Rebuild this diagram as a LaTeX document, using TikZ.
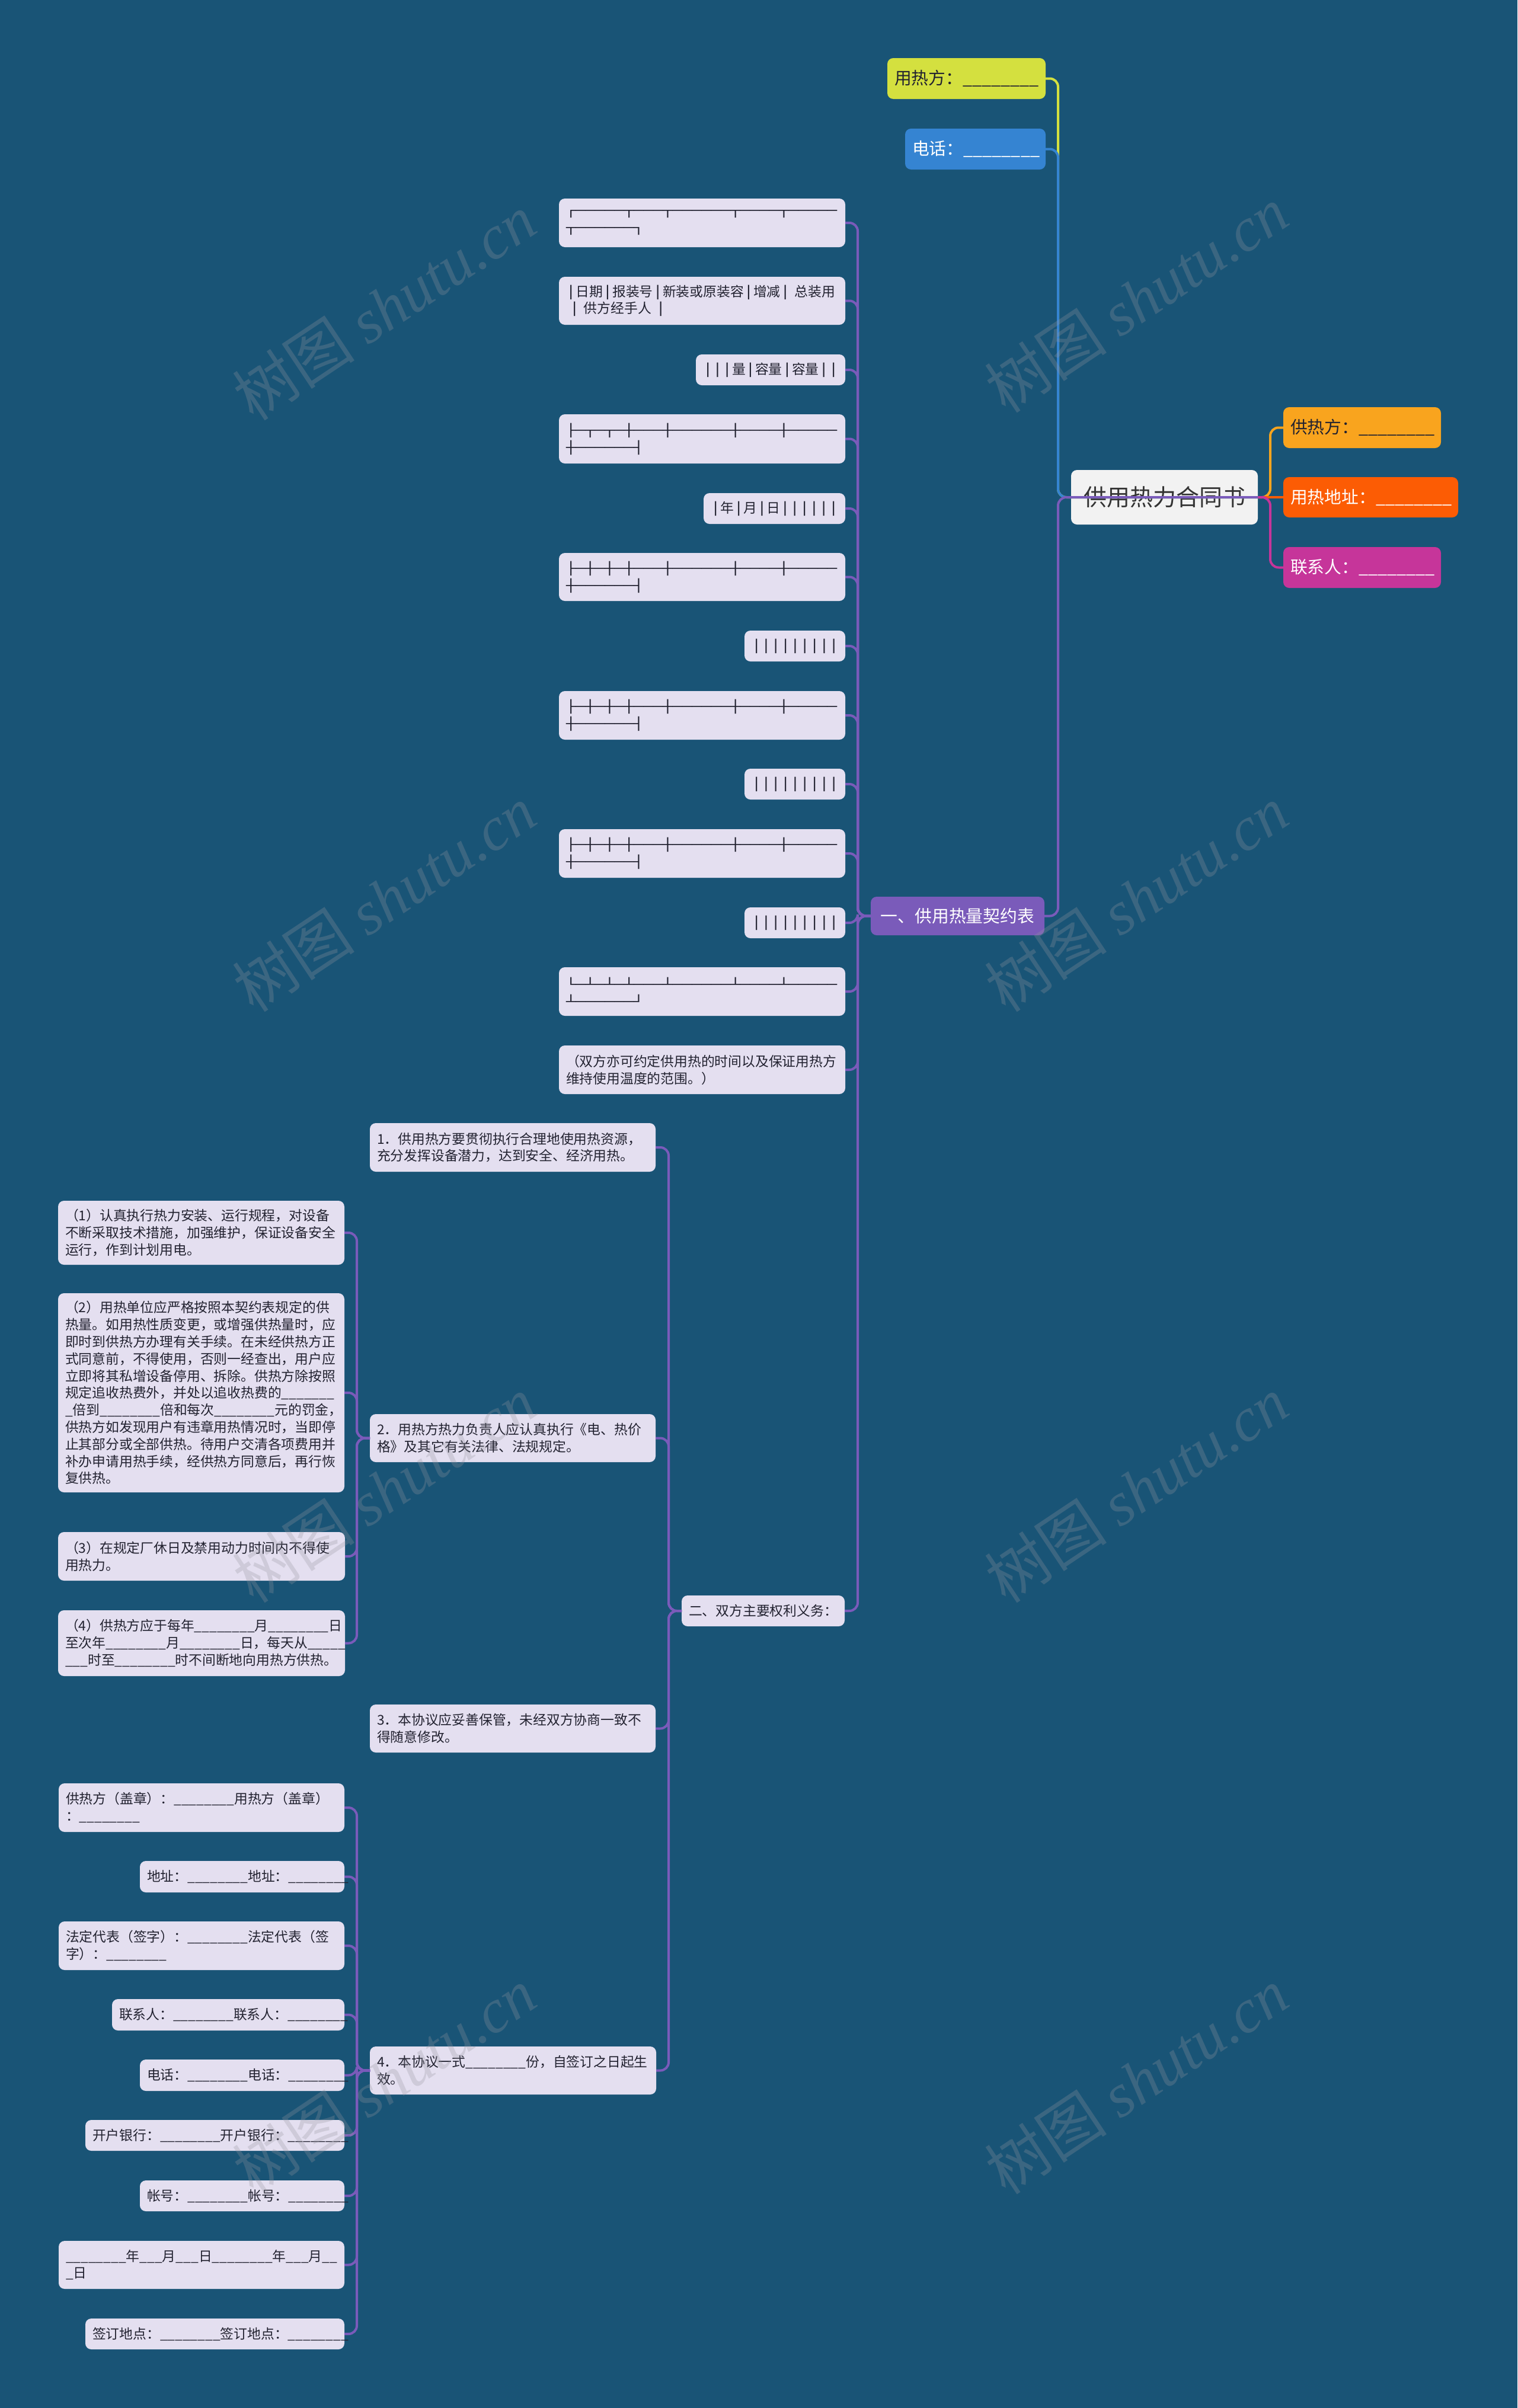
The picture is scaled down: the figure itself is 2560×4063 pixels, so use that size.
\documentclass[tikz,border=0pt]{standalone}
\usepackage{fontspec}
\setmainfont{Noto Sans CJK SC}
\newfontfamily\bdfont[FakeStretch=1.317]{DejaVu Sans Mono}
\newfontfamily\wmlatin{Liberation Serif}
\usetikzlibrary{calc}
\definecolor{bg}{RGB}{25,84,118}
\definecolor{boxfill}{RGB}{228,223,240}
\definecolor{txt}{RGB}{34,34,48}
\definecolor{cyel}{RGB}{212,224,63}
\definecolor{cblu}{RGB}{53,132,210}
\definecolor{corg}{RGB}{249,164,30}
\definecolor{cred}{RGB}{252,92,4}
\definecolor{cmag}{RGB}{198,53,154}
\definecolor{cpur}{RGB}{122,91,186}
\definecolor{croot}{RGB}{242,242,242}
\definecolor{wmgray}{RGB}{150,150,160}
\newcommand\bdx{\bdfont\fontsize{10.3}{14.5}\selectfont}
\newcommand\vbx{{\bdx │}}
\newcommand\bk{\_\_\_\_\_\_\_\_}
\newcommand\bx[7]{%
  \pgfmathsetmacro\bxw{(#5-#3)*0.5}%
  \pgfmathsetmacro\bxh{(#6-#4)*0.5}%
  \pgfmathsetmacro\bxt{(#5-#3)*0.5-12}%
  \node[#1, minimum width=\bxw pt, minimum height=\bxh pt, text width=\bxt pt] (#2) at ({(#3+#5)/2},{(#4+#6)/2}) {#7};%
}
\tikzset{
  every node/.style={outer sep=0pt},
  nb/.style={rounded corners=5pt, inner xsep=6pt, inner ysep=0pt},
  lb/.style={nb, fill=boxfill, text=txt, font=\fontsize{11.4}{14.4}\selectfont},
  alL/.style={align=left},
  alC/.style={align=center},
  rul/.style={nb, fill=boxfill, text=txt, font=\bdx, align=left},
  topbox/.style={nb, font=\fontsize{14.4}{18}\selectfont, align=left},
  conn/.style={line width=2pt, rounded corners=7pt},
  wm/.style={text=wmgray, text opacity=0.28, font=\fontsize{52}{56}\selectfont, inner sep=0pt}
}
\begin{document}
\begin{tikzpicture}[x=0.5pt, y=-0.5pt]
\useasboundingbox (0,0) rectangle (2560,4063);
\fill[bg] (0,0) rectangle (2560,4063);

% ---------- top level ----------
\bx{nb, fill=croot, text={rgb,255:red,51;green,51;blue,51}, font=\fontsize{19.5}{24}\selectfont, align=center}{root}{1807}{793}{2122}{885}{供用热力合同书}
\bx{topbox, fill=cyel, text=txt}{uA}{1497}{98}{1764}{167}{用热方：\bk}
\bx{topbox, fill=cblu, text=white}{uB}{1527}{217}{1764}{286}{电话：\bk}
\bx{topbox, fill=corg, text=txt}{rA}{2165}{687}{2431}{756}{供热方：\bk}
\bx{topbox, fill=cred, text=white}{rB}{2165}{805}{2460}{873}{用热地址：\bk}
\bx{topbox, fill=cmag, text=white}{rC}{2165}{923}{2431}{992}{联系人：\bk}
\bx{topbox, fill=cpur, text=white, align=center}{t1}{1469}{1513}{1762}{1578}{一、供用热量契约表}

% ---------- table branch ----------
\bx{rul}{b1}{943}{335}{1426}{417}{┌─────┬───┬──────┬────┬─────\\┬──────┐}
\bx{lb,alL}{b2}{943}{467}{1426}{548}{\vbx 日期\vbx 报装号\vbx 新装或原装容\vbx 增减\vbx\ 总装用\\\hspace*{3pt}\vbx\ 供方经手人\ \vbx}
\bx{lb,alC}{b3}{1174}{598}{1426}{650}{\vbx\vbx\vbx 量\vbx 容量\vbx 容量\vbx\vbx}
\bx{rul}{b4}{943}{699}{1426}{782}{├─┬─┬─┼───┼──────┼────┼─────\\┼──────┤}
\bx{lb,alC}{b5}{1187}{832}{1426}{884}{\vbx 年\vbx 月\vbx 日\vbx\vbx\vbx\vbx\vbx\vbx}
\bx{rul}{b6}{943}{933}{1426}{1014}{├─┼─┼─┼───┼──────┼────┼─────\\┼──────┤}
\bx{rul,align=center}{b7}{1256}{1064}{1426}{1116}{│││││││││}
\bx{rul}{b8}{943}{1166}{1426}{1248}{├─┼─┼─┼───┼──────┼────┼─────\\┼──────┤}
\bx{rul,align=center}{b9}{1256}{1297}{1426}{1349}{│││││││││}
\bx{rul}{b10}{943}{1399}{1426}{1481}{├─┼─┼─┼───┼──────┼────┼─────\\┼──────┤}
\bx{rul,align=center}{b11}{1256}{1531}{1426}{1583}{│││││││││}
\bx{rul}{b12}{943}{1632}{1426}{1714}{└─┴─┴─┴───┴──────┴────┴─────\\┴──────┘}
\bx{lb,alL}{b13}{943}{1764}{1426}{1846}{（双方亦可约定供用热的时间以及保证用热方\\维持使用温度的范围。）}
\bx{lb,alC}{t2}{1150}{2692}{1425}{2744}{二、双方主要权利义务：}

% ---------- rights branch ----------
\bx{lb,alL}{c1}{624}{1895}{1106}{1977}{1．供用热方要贯彻执行合理地使用热资源，\\充分发挥设备潜力，达到安全、经济用热。}
\bx{lb,alL}{c2}{624}{2386}{1106}{2467}{2．用热方热力负责人应认真执行《电、热价\\格》及其它有关法律、法规规定。}
\bx{lb,alL}{c3}{624}{2876}{1106}{2957}{3．本协议应妥善保管，未经双方协商一致不\\得随意修改。}
\bx{lb,alL}{c4}{624}{3453}{1107}{3534}{4．本协议一式\bk 份，自签订之日起生\\效。}

\bx{lb,alL}{d1}{98}{2026}{581}{2134}{（1）认真执行热力安装、运行规程，对设备\\不断采取技术措施，加强维护，保证设备安全\\运行，作到计划用电。}
\bx{lb,alL}{d2}{98}{2182}{581}{2518}{（2）用热单位应严格按照本契约表规定的供\\热量。如用热性质变更，或增强供热量时，应\\即时到供热方办理有关手续。在未经供热方正\\式同意前，不得使用，否则一经查出，用户应\\立即将其私增设备停用、拆除。供热方除按照\\规定追收热费外，并处以追收热费的\_\_\_\_\_\_\_\\\_倍到\bk 倍和每次\bk 元的罚金，\\供热方如发现用户有违章用热情况时，当即停\\止其部分或全部供热。待用户交清各项费用并\\补办申请用热手续，经供热方同意后，再行恢\\复供热。}
\bx{lb,alL}{d3}{98}{2585}{582}{2667}{（3）在规定厂休日及禁用动力时间内不得使\\用热力。}
\bx{lb,alL}{d4}{98}{2717}{582}{2828}{（4）供热方应于每年\bk 月\bk 日\\至次年\bk 月\bk 日，每天从\_\_\_\_\_\\\_\_\_时至\bk 时不间断地向用热方供热。}

\bx{lb,alL}{s1}{99}{3009}{581}{3091}{供热方（盖章）：\bk 用热方（盖章）\\：\bk}
\bx{lb,alC}{s2}{236}{3140}{581}{3193}{地址：\bk 地址：\bk}
\bx{lb,alL}{s3}{99}{3242}{581}{3324}{法定代表（签字）：\bk 法定代表（签\\字）：\bk}
\bx{lb,alC}{s4}{189}{3373}{581}{3426}{联系人：\bk 联系人：\bk}
\bx{lb,alC}{s5}{236}{3475}{581}{3528}{电话：\bk 电话：\bk}
\bx{lb,alC}{s6}{144}{3577}{581}{3629}{开户银行：\bk 开户银行：\bk}
\bx{lb,alC}{s7}{236}{3679}{581}{3731}{帐号：\bk 帐号：\bk}
\bx{lb,alL}{s8}{99}{3781}{581}{3862}{\bk 年\_\_\_月\_\_\_日\bk 年\_\_\_月\_\_\\\_日}
\bx{lb,alC}{s9}{144}{3912}{581}{3964}{签订地点：\bk 签订地点：\bk}

% ---------- junctions ----------
\coordinate (jL) at (1785,839);
\coordinate (jR) at (2143,839);
\coordinate (j1) at (1447,1545);
\coordinate (j2) at (1128,2718);
\coordinate (j3) at (602,2426);
\coordinate (j4) at (602,3493);

% ---------- connectors ----------
\draw[conn, corg] (root.east) -- (root.east -| jR) |- (rA.west);
\draw[conn, cred] (root.east) -- (rB.west);
\draw[conn, cmag] (root.east) -- (root.east -| jR) |- (rC.west);
\draw[conn, cyel] (root.east) -- (root.east -| jL) |- (uA.east);
\draw[conn, cblu] (root.east) -- (root.east -| jL) |- (uB.east);
\draw[conn, cpur] (root.east) -- (root.east -| jL) |- (t1.east);

\foreach \n in {b1,b2,b3,b4,b5,b6,b7,b8,b9,b10,b11,b12,b13,t2}
  \draw[conn, cpur] (t1.west) -- (t1.west -| j1) |- (\n.east);
\foreach \n in {c1,c2,c3,c4}
  \draw[conn, cpur] (t2.west) -- (t2.west -| j2) |- (\n.east);
\foreach \n in {d1,d2,d3,d4}
  \draw[conn, cpur] (c2.west) -- (c2.west -| j3) |- (\n.east);
\foreach \n in {s1,s2,s3,s4,s5,s6,s7,s8,s9}
  \draw[conn, cpur] (c4.west) -- (c4.west -| j4) |- (\n.east);

% ---------- watermarks ----------
\node[wm, rotate=33.7] (w1) at (648,518) {树图 {\wmlatin\itshape shutu.cn}};
\node[wm, rotate=33.7] (w2) at (1917,505) {树图 {\wmlatin\itshape shutu.cn}};
\node[wm, rotate=33.7] (w3) at (648,1516) {树图 {\wmlatin\itshape shutu.cn}};
\node[wm, rotate=33.7] (w4) at (1917,1516) {树图 {\wmlatin\itshape shutu.cn}};
\node[wm, rotate=33.7] (w5) at (648,2513) {树图 {\wmlatin\itshape shutu.cn}};
\node[wm, rotate=33.7] (w6) at (1917,2513) {树图 {\wmlatin\itshape shutu.cn}};
\node[wm, rotate=33.7] (w7) at (648,3511) {树图 {\wmlatin\itshape shutu.cn}};
\node[wm, rotate=33.7] (w8) at (1917,3511) {树图 {\wmlatin\itshape shutu.cn}};
\end{tikzpicture}
\end{document}
